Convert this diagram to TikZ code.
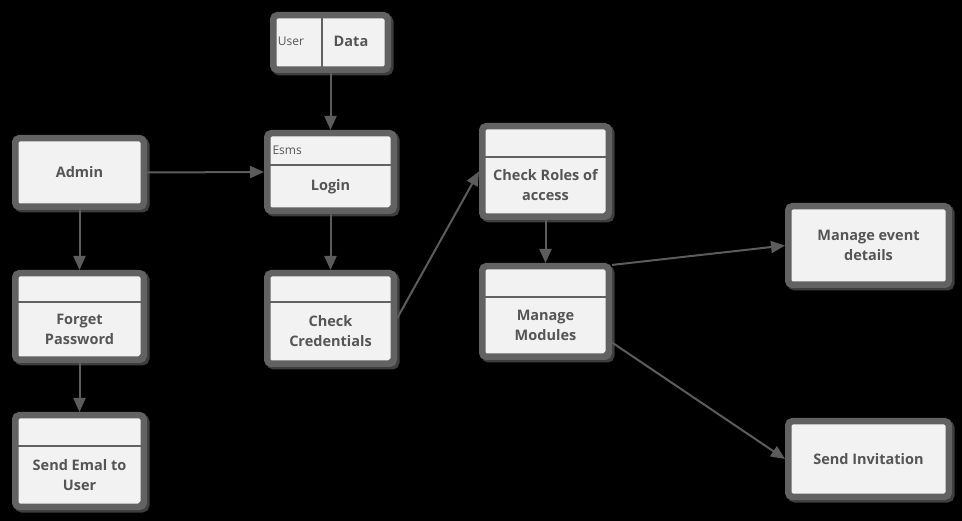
\documentclass[tikz,border=0pt]{standalone}
\usepackage{fontspec}
\setmainfont{Open Sans}
\usetikzlibrary{arrows.meta,shadows}
\definecolor{boxfill}{HTML}{F2F2F2}
\definecolor{framegray}{HTML}{626262}
\definecolor{shadowgray}{HTML}{3E3E3E}
\definecolor{linegray}{HTML}{5C5C5C}
\definecolor{txtgray}{HTML}{555555}
\begin{document}
\begin{tikzpicture}[x=1pt,y=-1pt,
  box/.style={draw=framegray, line width=6.5pt, fill=boxfill, rounded corners=4pt, inner sep=0pt,
    drop shadow={shadow xshift=2.5pt, shadow yshift=-2.5pt, fill=shadowgray, draw=shadowgray, opacity=1}},
  divider/.style={draw=framegray, line width=2.5pt},
  lbl/.style={text=txtgray, font=\bfseries\fontsize{14.5}{20}\selectfont, align=center},
  small/.style={text=txtgray, font=\fontsize{12}{14}\selectfont},
  flow/.style={draw=linegray, line width=2pt, -{Triangle[length=14pt,width=12pt]}},
  tick/.style={draw=framegray, line width=1.5pt}]

\fill[black] (0,0) rectangle (962,521);

% plain boxes
\foreach \nm/\cx/\cy/\w/\h/\txt in {admin/79.5/172.5/135/75/{Admin},
  event/868.5/245.5/167/85/{Manage event\\details},
  invite/868.5/459/167/82/{Send Invitation}}
  \node[box, lbl, minimum width={(\w-6.5)*1pt}, minimum height={(\h-6.5)*1pt}] (\nm) at (\cx,\cy) {\txt};

% boxes with a header
\foreach \nm/\cx/\cy/\w/\h/\dy/\txt in {login/330.5/172/133/84/165/{Login},
  forget/79.5/316.5/135/93/302/{Forget\\Password},
  cred/330.5/318.5/133/97/302/{Check\\Credentials},
  email/79.5/461/135/98/446/{Send Emal to\\User},
  roles/545.5/171.5/133/97/157/{Check Roles of\\access},
  modules/545.5/311.5/133/97/297/{Manage\\Modules}}
{
  \node[box, minimum width={(\w-6.5)*1pt}, minimum height={(\h-6.5)*1pt}] (\nm) at (\cx,\cy) {};
  \draw[divider] ({\cx-\w/2+3},\dy) -- ({\cx+\w/2-3},\dy);
  \node[lbl] (\nm-txt) at (\cx,{(\dy+\cy+\h/2-6)/2}) {\txt};
  \draw[tick] ([shift={(-11,-3)}]\nm.south east) -- ([shift={(-3,-11)}]\nm.south east);
}

% data store
\node[box, minimum width=114.5pt, minimum height=54.5pt] (data) at (330.5,42.5) {};
\draw[divider] (322,15) -- (322,70);
\node[small] (user) at (291,41) {User};
\node[lbl] (data-txt) at (351,41) {Data};
\node[small, anchor=west] (esms) at (269,150) {Esms};

% flows
\draw[flow] (data.south) -- (login.north);
\draw[flow] (admin.east) -- (login.west);
\draw[flow] (admin.south) -- (forget.north);
\draw[flow] (forget.south) -- (email.north);
\draw[flow] (login.south) -- (cred.north);
\draw[flow] (cred.east) -- (roles.west);
\draw[flow] (roles.south) -- (modules.north);
\draw[flow] (modules.35) -- (event.west);
\draw[flow] (modules.-25) -- (invite.west);
\end{tikzpicture}
\end{document}
